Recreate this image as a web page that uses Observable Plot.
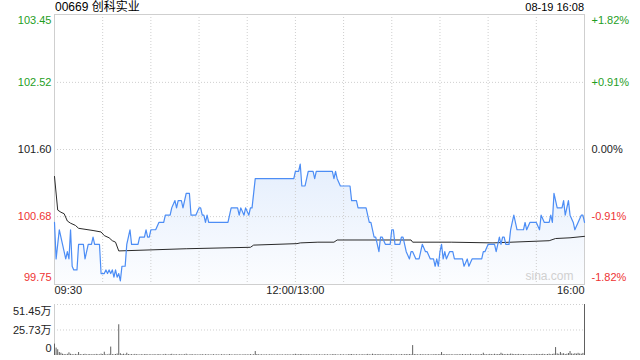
<!DOCTYPE html>
<html><head><meta charset="utf-8">
<script src="https://cdn.jsdelivr.net/npm/d3@7"></script>
<script src="https://cdn.jsdelivr.net/npm/@observablehq/plot@0.6"></script>
<style>
html,body{margin:0;padding:0;background:#fff;width:640px;height:360px;overflow:hidden;position:relative;font-family:"Liberation Sans",Arial,"Noto Sans CJK SC",sans-serif;}
#title{position:absolute;left:55px;top:0px;font-size:12px;line-height:15px;color:#000;}
#stamp{position:absolute;right:56px;top:0px;font-size:11px;line-height:15px;color:#000;}
#main{position:absolute;left:0;top:0;}
#vol{position:absolute;left:0;top:296px;}
</style></head>
<body>
<div id="title">00669 创科实业</div>
<div id="stamp">08-19 16:08</div>
<div id="main"></div>
<div id="vol"></div>
<script>
// minutes since 09:30 (lunch break removed: 150 = 12:00/13:00, 330 = 16:00)
const priceMinutes = [0,1,3,5,7,8,9,10,11,12,14,15,18,19,21,23,24,25,28,29,31,32,33,34,35,36,37,38,39,40,41,42,44,45,46,47,48,52,53,56,57,58,59,60,63,65,68,69,72,73,75,76,77,79,80,82,84,85,88,90,91,92,93,94,95,96,108,110,114,115,116,118,119,121,122,123,125,149,150,152,153,154,156,158,161,162,163,173,174,175,176,178,184,185,188,189,194,196,197,199,200,202,203,204,206,209,210,211,212,215,216,217,219,221,222,223,225,227,229,231,232,234,236,237,238,239,240,241,242,243,244,246,248,249,254,255,257,258,260,266,267,268,270,274,275,277,278,279,280,281,283,284,285,286,288,292,293,294,296,300,302,303,305,308,309,310,311,313,316,317,318,320,321,323,324,326,328,329,330];
const prices = [100.60,100.10,100.50,100.30,100.10,100.20,100.10,100.50,100.00,99.95,99.95,100.30,100.30,100.10,100.30,100.30,100.40,100.30,100.30,99.90,99.90,99.95,99.90,99.95,99.90,99.95,99.85,99.95,99.85,99.90,99.80,100.00,100.00,100.30,100.40,100.50,100.30,100.30,100.40,100.40,100.50,100.40,100.40,100.50,100.50,100.60,100.60,100.70,100.70,100.80,100.90,100.80,100.90,100.90,100.80,101.00,101.00,100.70,100.70,100.80,100.80,100.70,100.70,100.60,100.70,100.60,100.60,100.80,100.80,100.70,100.80,100.70,100.80,100.70,100.80,100.80,101.20,101.20,101.30,101.30,101.40,101.10,101.10,101.30,101.30,101.20,101.30,101.30,101.20,101.30,101.20,101.10,101.10,100.90,100.90,100.80,100.80,100.60,100.60,100.40,100.40,100.20,100.40,100.40,100.30,100.30,100.50,100.50,100.30,100.30,100.40,100.40,100.20,100.10,100.20,100.20,100.10,100.10,100.30,100.20,100.20,100.10,100.10,100.00,100.10,100.00,100.20,100.30,100.10,100.20,100.10,100.20,100.20,100.10,100.10,100.00,100.10,100.00,100.10,100.10,100.20,100.20,100.30,100.30,100.20,100.40,100.30,100.40,100.40,100.30,100.30,100.50,100.60,100.70,100.50,100.50,100.60,100.50,100.60,100.60,100.50,100.70,100.60,100.60,100.70,100.60,101.00,100.80,100.80,100.90,100.70,100.90,100.70,100.60,100.50,100.60,100.70,100.70,100.60];
const avgMinutes = [0,2,4,6,8,10,13,15,24,29,31,34,36,38,40,82,122,124,151,153,164,174,176,222,223,247,273,308,312,321,330];
const avgPrices = [101.23,100.77,100.74,100.72,100.62,100.59,100.56,100.52,100.49,100.47,100.42,100.39,100.35,100.33,100.21,100.24,100.26,100.29,100.31,100.32,100.33,100.33,100.36,100.36,100.33,100.33,100.32,100.35,100.38,100.39,100.41];
// volume per minute, in 万 shares (index = minute)
const volumes = [
11.5,7.5,5.8,3,2.3,1.3,1.0,0.8,1.2,2.7,1.3,0.9,0.7,1.1,0.8,3,1.0,0.6,0.9,1.2,0.7,0.8,1.0,0.6,0.9,0.7,1.1,0.8,0.6,1.4,
1.0,3.3,0.8,0.6,1.2,8.5,0.9,0.7,1.0,1.5,31,1.8,0.9,1.3,0.8,2.3,1.0,0.7,0.9,0.6,1.1,0.8,0.7,0.5,0.9,0.6,0.8,1.0,0.6,0.7,
0.8,0.5,0.9,0.6,0.7,1.0,0.5,0.6,0.8,1.1,0.7,0.5,0.9,1.2,0.6,0.8,0.7,0.5,0.9,0.6,0.7,0.8,1.3,0.6,0.5,0.9,0.7,0.6,0.8,0.5,
0.7,0.6,0.9,0.5,0.8,0.6,0.7,0.5,0.6,0.8,0.5,0.7,0.6,0.5,0.8,0.6,0.7,0.5,0.6,0.9,0.7,0.5,0.6,0.8,0.5,0.7,0.6,0.5,0.8,0.6,
0.7,0.6,0.9,0.5,0.8,4,1.0,0.7,0.6,0.8,0.5,0.7,0.6,0.5,0.8,0.6,0.7,0.5,0.6,0.8,0.5,0.7,0.6,0.5,0.8,0.6,0.7,0.5,0.6,0.9,
1.2,0.8,0.7,1.0,0.9,0.6,0.8,0.7,0.9,0.6,0.5,0.7,0.6,0.8,0.5,0.7,0.6,0.5,0.8,0.6,0.7,0.5,0.6,0.8,0.9,0.7,0.6,0.5,0.8,0.6,
0.7,0.5,0.6,0.8,0.9,1.0,0.7,0.6,0.8,0.5,0.7,0.6,0.9,0.5,0.8,1.1,0.7,0.6,1.3,0.8,0.9,0.7,1.0,0.6,0.8,0.7,0.5,0.9,0.6,0.8,
0.9,0.7,0.6,0.8,0.5,0.7,0.9,0.6,0.8,1.0,0.7,0.9,0.8,10,1.0,0.8,0.7,0.6,0.9,0.7,0.8,0.6,0.7,0.9,0.5,0.8,0.6,1.0,0.7,0.8,
0.9,3,1.0,0.8,0.7,0.9,0.6,0.8,0.7,0.5,0.9,0.6,0.8,0.7,1.0,0.6,0.9,0.7,0.8,1.2,0.6,0.8,0.7,0.9,0.6,0.8,1.0,2.3,0.9,0.7,
0.8,1.1,0.9,0.7,1.2,0.8,1.0,0.9,2.3,1.3,1.0,0.8,1.1,0.9,1.4,1.2,1.0,0.8,0.9,1.1,0.7,0.8,1.0,0.9,0.6,0.8,1.0,0.7,0.9,0.8,
1.1,0.9,0.8,1.0,1.2,0.9,0.7,1.0,1.3,0.8,1.1,1.4,8,1.6,1.2,3,1.5,1.8,1.0,1.3,2.0,4,1.6,1.2,1.8,1.4,2.2,1.5,1.3,2.1,
51.45];
const prevClose = 101.60;
const priceTicksUp = [103.45, 102.52];
const priceTicksDown = [100.68, 99.75];
const pctTicksUp = ["+1.82%", "+0.91%"];
const pctTicksDown = ["-0.91%", "-1.82%"];
const timeTicks = [0, 150, 330];
const timeLabels = ["09:30", "12:00/13:00", "16:00"];
const gridMinutes = [30,60,90,120,150,180,210,240,270,300];
const volTicks = [51.45, 25.73, 0];
const volLabels = ["51.45万", "25.73万", "0"];

const GREEN = "#1f9e1f", RED = "#ee3333", DARK = "#222", GRID = "#cfcfcf", BLUE = "#4c8df5";
const font = "'Liberation Sans', Arial, 'Noto Sans CJK SC', sans-serif";

const priceData = priceMinutes.map((t, i) => ({t, p: prices[i]}));
const avgData = avgMinutes.map((t, i) => ({t, p: avgPrices[i]}));
const volData = volumes.map((v, t) => ({t, v}));
const yMin = 99.75, yMax = 103.45;

const gradient = () => {
  const defs = d3.create("svg:defs");
  const g = defs.append("linearGradient").attr("id", "areaGrad").attr("x1", 0).attr("y1", 0).attr("x2", 0).attr("y2", 1);
  g.append("stop").attr("offset", "0%").attr("stop-color", "#5a96f0").attr("stop-opacity", 0.16);
  g.append("stop").attr("offset", "100%").attr("stop-color", "#5a96f0").attr("stop-opacity", 0.02);
  return defs.node();
};

const main = Plot.plot({
  width: 640, height: 300,
  marginTop: 14, marginBottom: 16, marginLeft: 54, marginRight: 56,
  style: {fontFamily: font, fontSize: "11px", background: "transparent"},
  x: {domain: [0, 330], axis: null},
  y: {domain: [yMin, yMax], axis: null},
  marks: [
    gradient,
    Plot.areaY(priceData, {x: "t", y1: yMin, y2: "p", fill: "url(#areaGrad)"}),
    Plot.ruleY([102.52, prevClose, 100.68], {stroke: GRID, strokeDasharray: "1,2"}),
    Plot.ruleX(gridMinutes, {stroke: GRID, strokeDasharray: "1,2"}),
    Plot.frame({stroke: GRID}),
    Plot.line(avgData, {x: "t", y: "p", stroke: "#2a2a2a", strokeWidth: 1}),
    Plot.line(priceData, {x: "t", y: "p", stroke: BLUE, strokeWidth: 1.2}),
    // left price labels
    Plot.text([priceTicksUp[0]], {y: d => d, text: d => d.toFixed(2), frameAnchor: "left", textAnchor: "end", dx: -3, dy: 6, fill: GREEN}),
    Plot.text([priceTicksUp[1]], {y: d => d, text: d => d.toFixed(2), frameAnchor: "left", textAnchor: "end", dx: -3, fill: GREEN}),
    Plot.text([prevClose], {y: d => d, text: d => d.toFixed(2), frameAnchor: "left", textAnchor: "end", dx: -3, fill: DARK}),
    Plot.text([priceTicksDown[0]], {y: d => d, text: d => d.toFixed(2), frameAnchor: "left", textAnchor: "end", dx: -3, fill: RED}),
    Plot.text([priceTicksDown[1]], {y: d => d, text: d => d.toFixed(2), frameAnchor: "left", textAnchor: "end", dx: -3, dy: -7, fill: RED}),
    // right percent labels
    Plot.text([0], {y: () => priceTicksUp[0], text: () => pctTicksUp[0], frameAnchor: "right", textAnchor: "start", dx: 7, dy: 6, fill: GREEN}),
    Plot.text([0], {y: () => priceTicksUp[1], text: () => pctTicksUp[1], frameAnchor: "right", textAnchor: "start", dx: 7, fill: GREEN}),
    Plot.text([0], {y: () => prevClose, text: () => "0.00%", frameAnchor: "right", textAnchor: "start", dx: 7, fill: DARK}),
    Plot.text([0], {y: () => priceTicksDown[0], text: () => pctTicksDown[0], frameAnchor: "right", textAnchor: "start", dx: 7, fill: RED}),
    Plot.text([0], {y: () => priceTicksDown[1], text: () => pctTicksDown[1], frameAnchor: "right", textAnchor: "start", dx: 7, dy: -7, fill: RED}),
    // time labels
    Plot.text([0], {x: () => timeTicks[0], text: () => timeLabels[0], frameAnchor: "bottom", textAnchor: "start", dy: 9, fill: DARK}),
    Plot.text([0], {x: () => timeTicks[1], text: () => timeLabels[1], frameAnchor: "bottom", textAnchor: "middle", dy: 9, fill: DARK}),
    Plot.text([0], {x: () => timeTicks[2], text: () => timeLabels[2], frameAnchor: "bottom", textAnchor: "end", dy: 9, fill: DARK}),
    // watermark
    Plot.text(["sina.com"], {text: d => d, frameAnchor: "bottom-right", textAnchor: "end", dx: -11, dy: -5, fill: "#d0d0d0", fontSize: 12})
  ]
});
document.getElementById("main").appendChild(main);

const vol = Plot.plot({
  width: 640, height: 64,
  marginTop: 8, marginBottom: 5, marginLeft: 54, marginRight: 56,
  style: {fontFamily: font, fontSize: "11px", background: "transparent"},
  x: {domain: [0, 330], axis: null},
  y: {domain: [0, 51.45], axis: null},
  marks: [
    Plot.ruleY([volTicks[0], volTicks[1]], {stroke: GRID, strokeDasharray: "1,2"}),
    Plot.ruleX([0], {stroke: GRID}),
    Plot.ruleX(volData, {x: "t", y1: 0, y2: "v", stroke: "#606060", strokeWidth: 1}),
    Plot.text([0], {y: () => volTicks[0], text: () => volLabels[0], frameAnchor: "left", textAnchor: "end", dx: -3, dy: 7, fill: DARK}),
    Plot.text([0], {y: () => volTicks[1], text: () => volLabels[1], frameAnchor: "left", textAnchor: "end", dx: -3, fill: DARK}),
    Plot.text([0], {y: () => volTicks[2], text: () => volLabels[2], frameAnchor: "left", textAnchor: "end", dx: -3, dy: -7, fill: DARK})
  ]
});
document.getElementById("vol").appendChild(vol);
</script>
</body></html>
